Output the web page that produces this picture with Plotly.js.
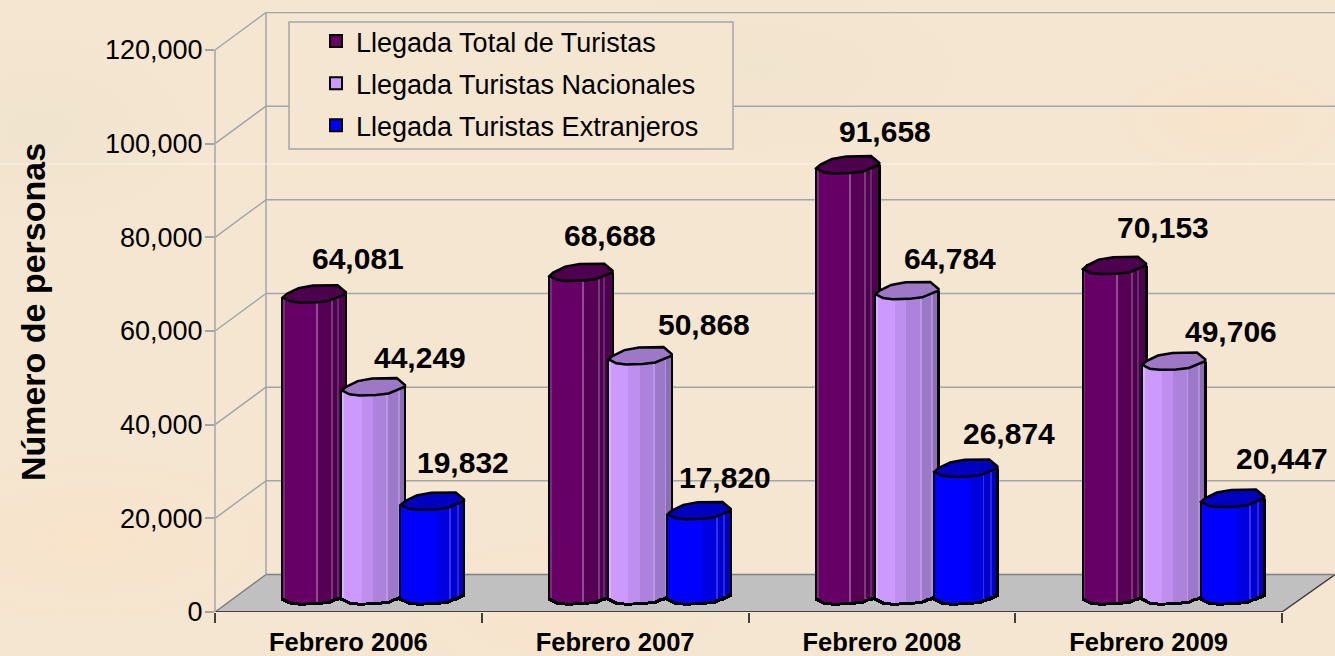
<!DOCTYPE html>
<html><head><meta charset="utf-8">
<script src="https://cdn.plot.ly/plotly-3.0.1.min.js"></script>
<style>
html,body{margin:0;padding:0;width:1335px;height:656px;overflow:hidden;background-color:#F5E6D1;
background-image:
radial-gradient(ellipse 120px 60px at 1230px 120px,rgba(250,226,200,.7),transparent),
radial-gradient(ellipse 200px 90px at 90px 540px,rgba(250,226,200,.7),transparent),
radial-gradient(ellipse 180px 80px at 560px 610px,rgba(250,226,200,.6),transparent),
radial-gradient(ellipse 220px 90px at 760px 70px,rgba(238,226,205,.6),transparent),
radial-gradient(ellipse 160px 100px at 40px 130px,rgba(238,226,205,.7),transparent);}
#chart{width:1335px;height:656px;}
</style></head><body><div id="chart"></div>
<script>
const categories = ["Febrero 2006","Febrero 2007","Febrero 2008","Febrero 2009"];
const seriesNames = ["Llegada Total de Turistas","Llegada Turistas Nacionales","Llegada Turistas Extranjeros"];
const totalTuristas = [64081,68688,91658,70153];
const nacionales = [44249,50868,64784,49706];
const extranjeros = [19832,17820,26874,20447];
const yTicks = [0,20000,40000,60000,80000,100000,120000];

const seriesValues = [totalTuristas,nacionales,extranjeros];
const W=1335,H=656,mL=215,mR=0,mT=12,mB=44;
const pxPerUnitX=266.75, pxPerUnitY=562/120000;
const yMax=600/pxPerUnitY, xMax=-0.5+1120/pxPerUnitX;
const px=p=>p/pxPerUnitY, pxX=p=>p/pxPerUnitX;
const wallDY=px(37.5), wallX=51/1120;
const barW=pxX(63), barOff=[-0.246,-0.024,0.197];
const baseC=px(18), rim=px(9);
const mainCol=["#660066","#CC99FF","#0000FF"], topCol=["#4D004D","#9C78C6","#0000C0"];
const stops=[
 [[.04,"#7A2A7A"],[.08,"#660066"],[.52,"#660066"],[.56,"#8E4E8E"],[.6,"#5A005A"],[.78,"#550055"],[.82,"#7A3A7A"],[.86,"#4D004D"],[.92,"#6A2A6A"],[1,"#4D004D"]],
 [[.03,"#D8B4FF"],[.3,"#CC99FF"],[.5,"#BE8FEE"],[.72,"#AD82DC"],[.76,"#BC98E4"],[.9,"#9C78C8"],[.94,"#B090D8"],[1,"#8E6CB8"]],
 [[.56,"#0000FF"],[.6,"#0000F0"],[.78,"#0000E0"],[.82,"#3030F0"],[.9,"#0000CC"],[.94,"#2828E0"],[1,"#0000C0"]]
];
const backEdge=[[-.87,0],[-.5,-.63],[-.04,-.92],[.74,-.96],[1,-.2]];
const frontEdge=[[-1,.4],[-.76,.83],[-.45,.96],[.07,.92],[.48,.75],[1,0]];
function edgeV(u){for(let i=1;i<frontEdge.length;i++){const a=frontEdge[i-1],b=frontEdge[i];if(u<=b[0])return a[1]+(b[1]-a[1])*(u-a[0])/(b[0]-a[0]);}return 0;}
function colAt(s,t){for(const st of stops[s])if(t<=st[0])return st[1];return stops[s].at(-1)[1];}

const traces=[];
const N=32;
seriesValues.forEach((vals,s)=>{
  // black outline: slightly wider and lower than the facets
  const out=pxX(1.5), drop=px(3), so=(barW+2*out)/N;
  for(let k=0;k<N;k++){
    const u=Math.max(-1,Math.min(1,(k+.5)/N*2-1)), b=baseC-edgeV(u)*rim-drop;
    traces.push({type:"bar",x:categories,y:vals.map(v=>v+drop),base:vals.map(()=>b),offset:barOff[s]-out+k*so,width:so,
      marker:{color:"#000",line:{width:0}},showlegend:false,hoverinfo:"skip"});
  }
  // the series itself (carries the legend entry and the hover value)
  const core=pxX(4);
  traces.push({type:"bar",name:seriesNames[s],x:categories,y:vals,base:vals.map(()=>baseC),offset:barOff[s]+core,width:barW-2*core,
    marker:{color:mainCol[s],line:{color:"#000",width:2}},legendgroup:"g"+s,
    hovertemplate:"%{x}: %{y:,}<extra>"+seriesNames[s]+"</extra>"});
  // facets of the cylinder
  const inset=pxX(1);
  for(let k=0;k<N;k++){
    const w=(barW-2*inset)/N, u=(k+.5)/N*2-1, b=baseC-edgeV(u)*rim;
    traces.push({type:"bar",x:categories,y:vals,base:vals.map(()=>b),offset:barOff[s]+inset+k*w,width:w,
      marker:{color:colAt(s,(k+.5)/N),line:{width:0}},showlegend:false,hoverinfo:"skip"});
  }
});
// top caps
seriesValues.forEach((vals,s)=>{
  vals.forEach((v,i)=>{
    const pts=[...backEdge,...frontEdge.slice().reverse()];
    const cx=i+barOff[s]+barW/2;
    traces.push({type:"scatter",mode:"lines",xaxis:"x2",yaxis:"y",fill:"toself",fillcolor:topCol[s],
      x:pts.map(p=>cx+p[0]*barW/2).concat(cx+pts[0][0]*barW/2),
      y:pts.map(p=>v+baseC-p[1]*rim).concat(v+baseC-pts[0][1]*rim),
      line:{color:"#000",width:2.5},showlegend:false,hoverinfo:"skip"});
  });
});

const wallCol="#A2A6AA";
const shapes=[
 {type:"path",xref:"paper",yref:"paper",layer:"below",line:{width:0},fillcolor:"#C0C0C0",
  path:`M0,0 L${wallX},${wallDY/yMax} L1,${wallDY/yMax} L${1067/1120},0 Z`},
 {type:"line",xref:"paper",yref:"y",layer:"below",x0:0,x1:wallX,y0:0,y1:wallDY,line:{color:"#808080",width:1.5}},
 {type:"line",xref:"paper",yref:"y",layer:"below",x0:1067/1120,x1:1,y0:0,y1:wallDY,line:{color:"#404040",width:1.5}},
 {type:"line",xref:"paper",yref:"y",layer:"below",x0:0,x1:1067/1120,y0:0,y1:0,line:{color:"#404040",width:2}},
 {type:"line",xref:"paper",yref:"y",layer:"below",x0:wallX,x1:1,y0:wallDY,y1:wallDY,line:{color:"#808080",width:1.5}},
 {type:"line",xref:"paper",yref:"y",layer:"below",x0:0,x1:0,y0:0,y1:120000,line:{color:wallCol,width:1.5}},
 {type:"line",xref:"paper",yref:"y",layer:"below",x0:wallX,x1:wallX,y0:wallDY,y1:120000+wallDY,line:{color:wallCol,width:1.5}},
 {type:"line",xref:"paper",yref:"paper",layer:"below",x0:-215/1120,x1:1,y0:(612-164)/600,y1:(612-164)/600,line:{color:"rgba(255,255,255,.55)",width:1}}
];
yTicks.forEach(t=>{
  if(t>0){
    shapes.push({type:"line",xref:"paper",yref:"y",layer:"below",x0:wallX,x1:1,y0:t+wallDY,y1:t+wallDY,line:{color:wallCol,width:1.5}});
    shapes.push({type:"line",xref:"paper",yref:"y",layer:"below",x0:0,x1:wallX,y0:t,y1:t+wallDY,line:{color:wallCol,width:1.5}});
  }
});
shapes.push({type:"rect",xref:"paper",yref:"paper",layer:"below",x0:(289-215)/1120,x1:(733-215)/1120,y0:(612-149)/600,y1:(612-22)/600,
  fillcolor:"#F5E6D1",line:{color:wallCol,width:1.5}});

const labelShift=[
 [[44,-35],[29,-37],[37,-33],[48,-38]],
 [[47,-29],[64,-31],[43,-32],[57,-30]],
 [[31,-39],[26,-33],[43,-35],[49,-40]]
];
const annotations=[];
seriesValues.forEach((vals,s)=>vals.forEach((v,i)=>{
  annotations.push({xref:"x2",yref:"y",x:i+barOff[s]+barW/2,y:v+baseC,text:v.toLocaleString("en-US"),showarrow:false,
    xshift:labelShift[s][i][0],yshift:-labelShift[s][i][1],xanchor:"center",yanchor:"middle",
    font:{family:"Liberation Sans, Arial, sans-serif",size:30,color:"#000",weight:700}});
}));

const layout={
 width:W,height:H,margin:{l:mL,r:mR,t:mT,b:mB,pad:0},
 paper_bgcolor:"rgba(0,0,0,0)",plot_bgcolor:"rgba(0,0,0,0)",
 barmode:"overlay",bargap:0,
 font:{family:"Liberation Sans, Arial, sans-serif",color:"#000"},
 xaxis:{type:"category",categoryorder:"array",categoryarray:categories,range:[-0.5,xMax],fixedrange:true,
   tickson:"boundaries",ticks:"outside",ticklen:10,tickcolor:"#404040",tickwidth:1.5,showline:false,showgrid:false,zeroline:false,
   ticklabelstandoff:12,tickfont:{size:25.5,weight:700,color:"#000"}},
 xaxis2:{type:"linear",overlaying:"x",range:[-0.5,xMax],visible:false,fixedrange:true},
 yaxis:{range:[0,yMax],tickmode:"array",tickvals:yTicks,tickformat:",",ticks:"outside",ticklen:9,tickcolor:wallCol,tickwidth:1.5,
   ticklabelstandoff:-3,
   showline:false,showgrid:false,zeroline:false,fixedrange:true,tickfont:{size:27,color:"#000"},
   title:{text:"Número de personas",standoff:49,font:{size:34,weight:700,color:"#000"}}},
 legend:{x:(316-215)/1120,y:(612-17)/600,xanchor:"left",yanchor:"top",bgcolor:"rgba(0,0,0,0)",borderwidth:0,itemwidth:30,
   tracegroupgap:4,traceorder:"grouped",font:{size:27,color:"#000"},itemclick:false,itemdoubleclick:false},
 shapes,annotations,showlegend:true,hovermode:"closest"
};
Plotly.newPlot("chart",traces,layout,{displayModeBar:false,responsive:false});
</script></body></html>
